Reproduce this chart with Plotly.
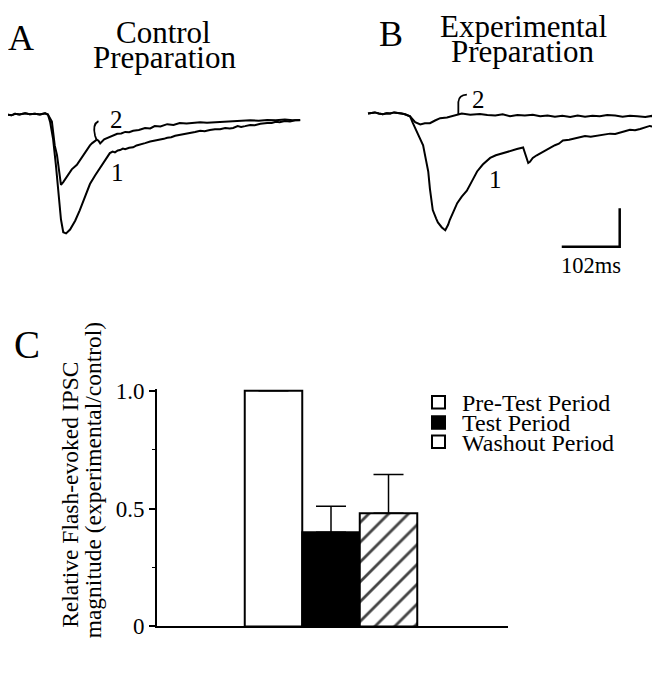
import plotly.graph_objects as go

# The page body has an 8px margin, so the figure is laid out in screen pixels
# and shifted by that offset.
OFF = 8
W, H = 644, 662
FONT = "Liberation Serif, Times New Roman, serif"

# ---------------- Panel A (control preparation) traces: time (ms), current (pA)
tA_base = [0, 8, 14, 22, 32, 40, 49, 58, 67, 72]
iA_base = [0, -2, 2, 0, 3, 1, 2, 0, 3, 0]

tA1 = tA_base + [76, 81, 86, 90, 95, 99, 104, 111, 120, 128,
                 137, 146, 155, 164, 172, 181, 186, 190, 195, 199,
                 204, 208, 215, 222, 228, 234, 243, 252, 260, 269,
                 276, 282, 289, 296, 304, 313, 322, 331, 340, 348,
                 357, 366, 375, 384, 392, 398, 406, 412, 419, 428,
                 436, 446, 458, 466, 473, 480, 489, 498, 507, 516]
iA1 = iA_base + [-20, -62, -130, -188, -272, -305, -308, -298, -275, -248,
                 -212, -180, -158, -138, -118, -100, -96, -98, -93, -92,
                 -88, -90, -86, -85, -80, -78, -74, -70, -68, -65,
                 -63, -60, -59, -55, -53, -50, -49, -45, -42, -43,
                 -40, -38, -38, -35, -36, -35, -30, -32, -30, -27,
                 -28, -24, -22, -22, -19, -20, -17, -18, -15, -15]

tA2 = tA_base + [79, 84, 88, 92, 95, 99, 106, 114, 123, 132,
                 141, 146, 150, 153, 158, 161, 164, 171, 181, 188,
                 194, 201, 208, 215, 222, 232, 243, 252, 260, 270,
                 282, 293, 304, 316, 328, 340, 352, 366, 380, 398,
                 412, 428, 443, 458, 473, 489, 503, 516]
iA2 = iA_base + [-18, -80, -105, -150, -182, -175, -160, -142, -130, -110,
                 -92, -80, -74, -70, -65, -68, -75, -64, -58, -55,
                 -50, -49, -45, -46, -42, -40, -35, -36, -30, -31,
                 -25, -27, -22, -23, -22, -20, -21, -20, -18, -18,
                 -17, -15, -16, -14, -15, -13, -15, -14]

# ---------------- Panel B (experimental preparation) traces
tB_base = [0, 6, 12, 19, 26, 33, 39, 46, 53, 59, 65]
iB_base = [0, 2, 3, 0, -2, 1, 0, 3, 2, 0, -2]

tB1 = tB_base + [74, 79, 88, 97, 102, 106, 109, 114, 120, 123,
                 130, 136, 141, 144, 151, 157, 165, 174, 183, 192,
                 202, 215, 225, 238, 250, 262, 273, 278, 282, 285,
                 290, 297, 312, 320, 329, 336, 343, 354, 364, 373,
                 382, 392, 403, 414, 426, 435, 444, 452, 461, 470,
                 479, 488, 496, 505, 514]
iB1 = iB_base + [-7, -25, -52, -82, -120, -150, -195, -250, -272, -282,
                 -295, -302, -288, -275, -252, -232, -215, -200, -175, -150,
                 -132, -115, -108, -102, -98, -92, -88, -108, -128, -125,
                 -115, -108, -95, -90, -82, -78, -70, -68, -65, -62,
                 -58, -60, -58, -55, -52, -53, -50, -46, -42, -43,
                 -40, -36, -32, -35, -38]

tB2 = tB_base + [74, 83, 92, 100, 109, 118, 127, 139, 153, 165,
                 180, 197, 210, 224, 237, 250, 263, 276, 290, 303,
                 316, 329, 342, 356, 369, 382, 395, 408, 421, 435,
                 448, 461, 474, 488, 500, 505, 514]
iB2 = iB_base + [-7, -22, -28, -25, -25, -18, -12, -10, -5, 0,
                 -3, -1, -4, -5, -2, -7, -4, -5, -3, -7,
                 -5, -8, -6, -9, -5, -8, -6, -7, -4, -5,
                 -8, -6, -7, -9, -6, -7, -9]

scale_ms = 102
scale_pA = 100
scale_start_ms = 341
scale_base_pA = -345

# ---------------- Panel C bar data
periods = ["Pre-Test Period", "Test Period", "Washout Period"]
bar_pos = [2, 3, 4]
ratio = [1.0, 0.40, 0.48]
sem_up = [None, 0.11, 0.165]
fills = ["white", "black", "white"]
patterns = ["", "", "/"]
yticks = [0, 0.5, 1.0]
yticklabels = ["0", "0.5", "1.0"]

fig = go.Figure()

line = dict(color="black", width=2)
fig.add_trace(go.Scatter(x=tA1, y=iA1, mode="lines", line=line, xaxis="x2", yaxis="y2", hoverinfo="skip"))
fig.add_trace(go.Scatter(x=tA2, y=iA2, mode="lines", line=line, xaxis="x2", yaxis="y2", hoverinfo="skip"))
fig.add_trace(go.Scatter(x=tB1, y=iB1, mode="lines", line=line, xaxis="x3", yaxis="y3", hoverinfo="skip"))
fig.add_trace(go.Scatter(x=tB2, y=iB2, mode="lines", line=line, xaxis="x3", yaxis="y3", hoverinfo="skip"))

fig.add_trace(go.Bar(
    x=bar_pos, y=ratio, width=1.0,
    marker=dict(color=fills, line=dict(color="black", width=2),
                pattern=dict(shape=patterns, size=14, solidity=0.2,
                             fgcolor="black", fgopacity=1, fillmode="overlay")),
    error_y=dict(type="data", symmetric=False, array=sem_up, arrayminus=[0, 0, 0],
                 color="black", thickness=1.5, width=15),
    xaxis="x", yaxis="y", hoverinfo="skip",
))


def px_x(p):
    return (p - OFF) / W


def px_y(p):
    return 1 - (p - OFF) / H


annotations = []


def txt(text, x, y, size, xanchor="center", yanchor="middle", xref="paper", yref="paper", angle=0):
    annotations.append(dict(text=text, x=x, y=y, xref=xref, yref=yref, showarrow=False,
                            font=dict(family=FONT, size=size, color="black"),
                            xanchor=xanchor, yanchor=yanchor, textangle=angle))


# panel labels / titles
txt("A", px_x(21), px_y(29), 36)
txt("Control", px_x(163), px_y(23), 31)
txt("Preparation", px_x(164), px_y(49), 31)
txt("B", px_x(391), px_y(25), 36)
txt("Experimental", px_x(523), px_y(17), 31)
txt("Preparation", px_x(522), px_y(43), 31)
txt("C", px_x(27), px_y(346), 39)

# trace labels
txt("2", 192, -12, 25, xref="x2", yref="y2")
txt("1", 194, -150, 25, xref="x2", yref="y2")
txt("2", 194, 37, 25, xref="x3", yref="y3")
txt("1", 224, -170, 25, xref="x3", yref="y3")

# scale bar label
txt("102ms", scale_start_ms + scale_ms / 2, scale_base_pA - 10, 22.5, yanchor="top", xref="x3", yref="y3")

# y axis title (two lines)
txt("Relative Flash-evoked IPSC", px_x(70), px_y(502), 23.5, angle=-90)
txt("magnitude (experimental/control)", px_x(93), px_y(487), 23.5, angle=-90)

# legend text
leg_y = [406, 427, 447]
for name, yy in zip(periods, leg_y):
    txt(name, px_x(460), px_y(yy + 1), 24, xanchor="left")

shapes = []
# leader lines for "2"
shapes.append(dict(type="path", xref="x2", yref="y2",
                   path="M 158,-67 L 155,-55 Q 150,-25 161,-17",
                   line=dict(color="black", width=1.8)))
shapes.append(dict(type="path", xref="x3", yref="y3",
                   path="M 159,-3 L 159,30 Q 160,48 174,49",
                   line=dict(color="black", width=1.8)))
# scale bar
shapes.append(dict(type="path", xref="x3", yref="y3",
                   path=f"M {scale_start_ms},{scale_base_pA} L {scale_start_ms + scale_ms},{scale_base_pA} L {scale_start_ms + scale_ms},{scale_base_pA + scale_pA}",
                   line=dict(color="black", width=2.5)))
# legend squares
for fill, yy in zip(fills, leg_y):
    shapes.append(dict(type="rect", xref="paper", yref="paper",
                       x0=px_x(432), x1=px_x(445), y0=px_y(yy + 6.5), y1=px_y(yy - 6.5),
                       fillcolor=fill, line=dict(color="black", width=2)))

MS_PER_PX = 1.76
fig.update_layout(
    width=W, height=H,
    margin=dict(l=0, r=0, t=0, b=0),
    paper_bgcolor="white", plot_bgcolor="rgba(0,0,0,0)",
    showlegend=False,
    annotations=annotations,
    shapes=shapes,
    xaxis=dict(domain=[px_x(157), px_x(508)], range=[-0.026, 6.078], showline=True, linecolor="black",
               linewidth=2, showticklabels=False, ticks="", showgrid=False, zeroline=False),
    yaxis=dict(domain=[px_y(638.3), px_y(392.3)], range=[0, 1.008], showline=True, linecolor="black",
               linewidth=2, tickvals=yticks, ticktext=yticklabels, ticks="outside", ticklen=6,
               tickwidth=2, tickcolor="black", showgrid=False, zeroline=False,
               tickfont=dict(family=FONT, size=23, color="black"),
               minor=dict(tickvals=[0.25, 0.75], ticks="outside", ticklen=3, tickcolor="black", tickwidth=1)),
    xaxis2=dict(domain=[px_x(8), px_x(330)], range=[(8 - 7) * MS_PER_PX, (330 - 7) * MS_PER_PX], visible=False),
    yaxis2=dict(domain=[px_y(260), px_y(60)], range=[-380, 120], visible=False),
    xaxis3=dict(domain=[px_x(330), px_x(652)], range=[(330 - 368) * MS_PER_PX, (652 - 368) * MS_PER_PX], visible=False),
    yaxis3=dict(domain=[px_y(260), px_y(60)], range=[-382.5, 117.5], visible=False),
)

fig.write_html("out.html")
